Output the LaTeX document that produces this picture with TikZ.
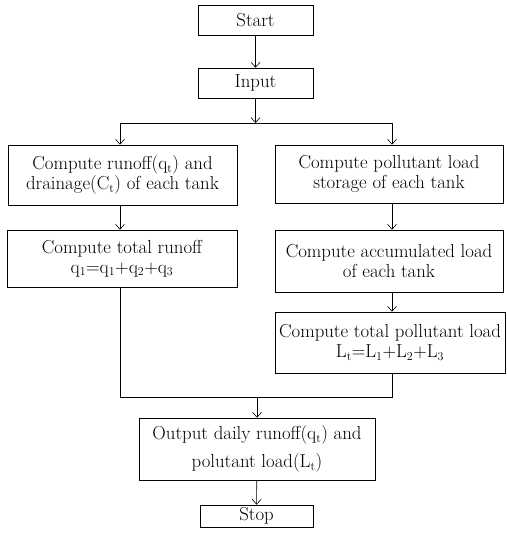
\documentclass[tikz,border=0pt]{standalone}
\usetikzlibrary{arrows.meta}
\begin{document}
\begin{tikzpicture}[x=1pt,y=-1pt,
  box/.style={draw,line width=0.6pt,inner sep=0pt,align=center,
    font=\fontsize{18.8}{20}\selectfont},
  link/.style={line width=0.6pt,-{Straight Barb[length=5pt,width=9pt]}},
  plain/.style={line width=0.6pt}]
\useasboundingbox (0,0) rectangle (506,540);
\node[box,minimum width=115,minimum height=30] (start) at (255.5,20) {Start};
\node[box,minimum width=115,minimum height=30] (input) at (255.5,83) {Input};
\node[box,minimum width=229,minimum height=60] (l1) at (122.5,175)
  {Compute runoff(q$_\mathrm{t}$) and\\drainage(C$_\mathrm{t}$) of each tank};
\node[box,minimum width=230,minimum height=57] (l2) at (122,258.5)
  {Compute total runoff\\q$_1$=q$_1$+q$_2$+q$_3$};
\node[box,minimum width=228,minimum height=58] (r1) at (389,174)
  {Compute pollutant load\\storage of each tank};
\node[box,minimum width=228,minimum height=62] (r2) at (389,261)
  {Compute accumulated load\\of each tank};
\node[box,minimum width=230,minimum height=61] (r3) at (390,342.5)
  {Compute total pollutant load\\L$_\mathrm{t}$=L$_1$+L$_2$+L$_3$};
\node[box,minimum width=236,minimum height=62] (out) at (257,449)
  {Output daily runoff(q$_\mathrm{t}$) and\\[8pt]polutant load(L$_\mathrm{t}$)};
\node[box,minimum width=113,minimum height=22] (stop) at (256.5,516) {Stop};
\coordinate (jc) at (255.5,123);
\coordinate (jl) at (120,123);
\coordinate (jr) at (392,123);
\coordinate (ml) at (120,397);
\coordinate (mr) at (392,397);
\coordinate (mc) at (257,397);
\draw[link] (start) -- (input);
\draw[link] (input) -- (jc);
\draw[plain] (jl) -- (jr);
\draw[link] (jl) -- (jl |- l1.north);
\draw[link] (jr) -- (jr |- r1.north);
\draw[link] (l1.south -| jl) -- (l2.north -| jl);
\draw[link] (r1.south -| jr) -- (r2.north -| jr);
\draw[link] (r2.south -| jr) -- (r3.north -| jr);
\draw[plain] (l2.south -| ml) -- (ml) -- (mr) -- (r3.south -| mr);
\draw[link] (mc) -- (out.north);
\draw[link] (out) -- (stop);
\end{tikzpicture}
\end{document}
